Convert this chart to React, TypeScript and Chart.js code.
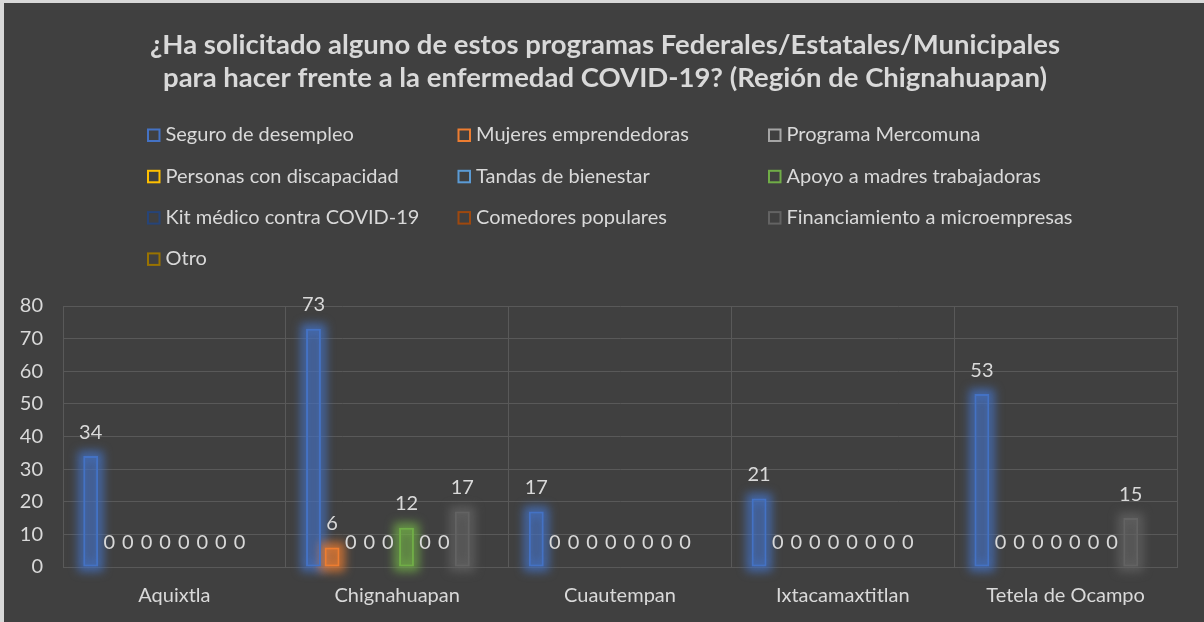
import React, { useEffect, useRef } from 'react';
import { Chart, registerables } from 'chart.js';

Chart.register(...registerables);

const FONT = 'Lato, "Noto Sans", sans-serif';
const TEXT = '#d9d9d9';
const GRID = '#595959';

const titleLines = [
  '¿Ha solicitado alguno de estos programas Federales/Estatales/Municipales',
  'para hacer frente a la enfermedad COVID-19? (Región de Chignahuapan)',
];

const categories = ['Aquixtla', 'Chignahuapan', 'Cuautempan', 'Ixtacamaxtitlan', 'Tetela de Ocampo'];

const seriesNames = [
  'Seguro de desempleo',
  'Mujeres emprendedoras',
  'Programa Mercomuna',
  'Personas con discapacidad',
  'Tandas de bienestar',
  'Apoyo a madres trabajadoras',
  'Kit médico contra COVID-19',
  'Comedores populares',
  'Financiamiento a microempresas',
  'Otro',
];

const seriesColors = [
  '#4472C4', '#ED7D31', '#A5A5A5', '#FFC000', '#5B9BD5',
  '#70AD47', '#264478', '#9E480E', '#636363', '#997300',
];

const seguroDesempleo = [34, 73, 17, 21, 53];
const mujeresEmprendedoras = [0, 6, 0, 0, 0];
const programaMercomuna = [0, 0, 0, 0, 0];
const personasDiscapacidad = [0, 0, 0, 0, 0];
const tandasBienestar = [0, 0, 0, 0, 0];
const apoyoMadres = [0, 12, 0, 0, 0];
const kitMedico = [0, 0, 0, 0, 0];
const comedoresPopulares = [0, 0, 0, 0, 0];
const financiamientoMicro = [0, 17, 0, 0, 15];
const otro: (number | null)[] = [null, null, null, null, null];

const seriesValues = [
  seguroDesempleo, mujeresEmprendedoras, programaMercomuna, personasDiscapacidad, tandasBienestar,
  apoyoMadres, kitMedico, comedoresPopulares, financiamientoMicro, otro,
];

const yMin = 0;
const yMax = 80;
const yStep = 10;

function rgba(hex: string, a: number) {
  const n = parseInt(hex.slice(1), 16);
  return `rgba(${(n >> 16) & 255},${(n >> 8) & 255},${n & 255},${a})`;
}

const glowPlugin = {
  id: 'glow',
  beforeDatasetsDraw(chart: any) {
    const ctx = chart.ctx;
    ctx.save();
    ctx.filter = 'blur(5px)';
    chart.data.datasets.forEach((ds: any, i: number) => {
      const meta = chart.getDatasetMeta(i);
      meta.data.forEach((el: any, j: number) => {
        const v = ds.data[j];
        if (v == null || v === 0) return;
        const p = el.getProps(['x', 'y', 'base', 'width'], true);
        ctx.strokeStyle = rgba(seriesColors[i], 0.8);
        ctx.lineWidth = 10;
        ctx.strokeRect(p.x - p.width / 2, p.y, p.width, p.base - p.y);
      });
    });
    ctx.restore();
  },
};

const valueLabelPlugin = {
  id: 'valueLabels',
  afterDatasetsDraw(chart: any) {
    const ctx = chart.ctx;
    ctx.save();
    ctx.font = `20px ${FONT}`;
    ctx.fillStyle = TEXT;
    ctx.textAlign = 'center';
    ctx.textBaseline = 'middle';
    chart.data.datasets.forEach((ds: any, i: number) => {
      const meta = chart.getDatasetMeta(i);
      meta.data.forEach((el: any, j: number) => {
        const v = ds.data[j];
        if (v == null) return;
        ctx.fillText(String(v), el.x, el.y - 24);
      });
    });
    ctx.restore();
  },
};

const headerPlugin = {
  id: 'header',
  afterDraw(chart: any) {
    const ctx = chart.ctx;
    ctx.save();
    ctx.font = `bold 27.5px ${FONT}`;
    ctx.fillStyle = TEXT;
    ctx.textAlign = 'center';
    ctx.textBaseline = 'middle';
    titleLines.forEach((line, k) => ctx.fillText(line, 601, 42 + k * 33));

    const x0 = 143;
    const dx = 310.5;
    const y0 = 132;
    const dy = 41.3;
    ctx.font = `20px ${FONT}`;
    ctx.textAlign = 'left';
    seriesNames.forEach((name, i) => {
      const col = i % 3;
      const row = Math.floor(i / 3);
      const bx = x0 + col * dx;
      const cy = y0 + row * dy;
      ctx.strokeStyle = seriesColors[i];
      ctx.lineWidth = 2;
      ctx.strokeRect(bx + 1, cy - 5.5, 11.5, 11.5);
      ctx.fillStyle = TEXT;
      ctx.fillText(name, bx + 18.5, cy);
    });
    ctx.restore();
  },
};

export default function App() {
  const ref = useRef<HTMLCanvasElement | null>(null);

  useEffect(() => {
    document.body.style.margin = '0';
    const canvas = ref.current;
    if (!canvas) return;
    const chart = new Chart(canvas, {
      type: 'bar',
      data: {
        labels: categories,
        datasets: seriesNames.map((name, i) => ({
          label: name,
          data: seriesValues[i],
          borderColor: seriesColors[i],
          backgroundColor: rgba(seriesColors[i], 0.3),
          borderWidth: 2,
          borderSkipped: false,
          barPercentage: 0.8,
          categoryPercentage: 0.835,
        })),
      },
      options: {
        animation: false,
        responsive: false,
        maintainAspectRatio: false,
        layout: { padding: { left: 0, right: 27, top: 303, bottom: 0 } },
        plugins: {
          legend: { display: false },
          tooltip: { enabled: false },
          title: { display: false },
        },
        scales: {
          x: {
            grid: { color: GRID, drawTicks: false, offset: true },
            border: { color: GRID },
            ticks: { color: TEXT, font: { family: FONT, size: 20 }, padding: 17 },
            afterFit: (s: any) => { s.height = 55; },
          },
          y: {
            min: yMin,
            max: yMax,
            grid: { color: GRID, drawTicks: false },
            border: { color: GRID },
            ticks: { stepSize: yStep, color: TEXT, font: { family: FONT, size: 20 }, padding: 20 },
            afterFit: (s: any) => { s.width = 59; },
          },
        },
      },
      plugins: [glowPlugin, valueLabelPlugin, headerPlugin],
    } as any);
    return () => chart.destroy();
  }, []);

  return (
    <div
      style={{
        width: 1204,
        height: 622,
        boxSizing: 'border-box',
        borderTop: '3px solid #d9d9d9',
        borderLeft: '4px solid #d9d9d9',
        background: '#404040',
        overflow: 'hidden',
      }}
    >
      <canvas ref={ref} width={1200} height={619} style={{ display: 'block', width: 1200, height: 619 }} />
    </div>
  );
}
